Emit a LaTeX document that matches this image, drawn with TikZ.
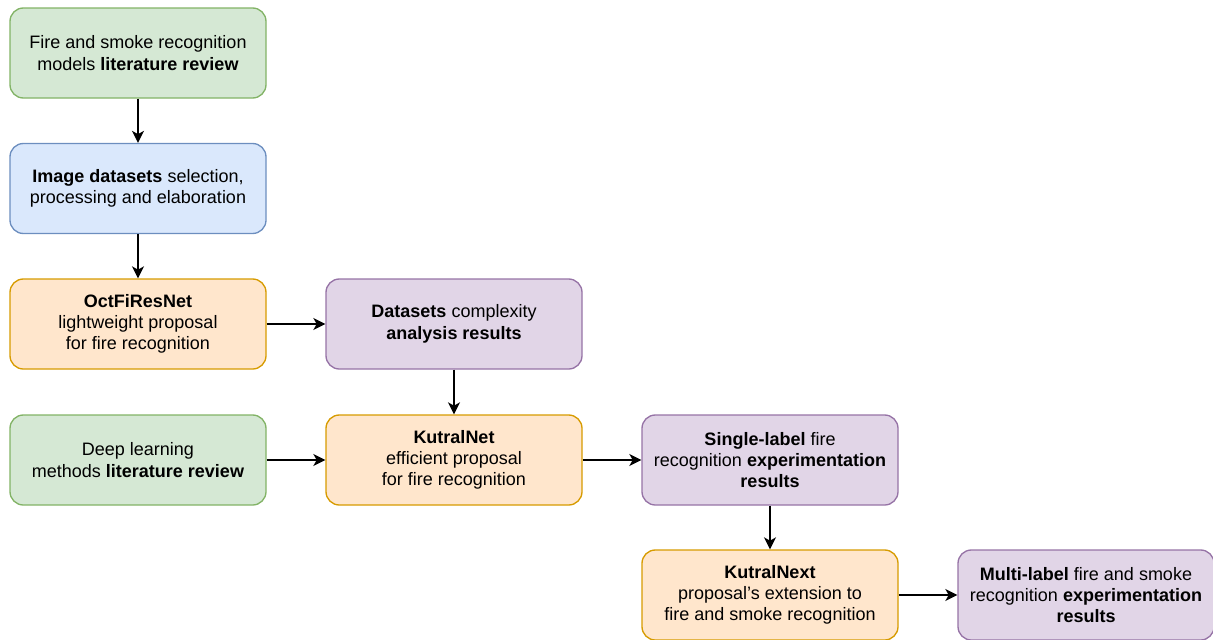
\documentclass[tikz,border=0pt]{standalone}
\usepackage{fontspec}
\setmainfont{Liberation Sans}
\usetikzlibrary{arrows.meta}

\definecolor{greenfill}{HTML}{D5E8D4}
\definecolor{greenline}{HTML}{82B366}
\definecolor{bluefill}{HTML}{DAE8FC}
\definecolor{blueline}{HTML}{6C8EBF}
\definecolor{orangefill}{HTML}{FFE6CC}
\definecolor{orangeline}{HTML}{D79B00}
\definecolor{purplefill}{HTML}{E1D5E7}
\definecolor{purpleline}{HTML}{9673A6}

\tikzset{
  box/.style={rectangle, rounded corners=10pt, line width=1pt,
    minimum width=192pt, minimum height=67.5pt, align=center,
    inner sep=0pt, text=black,
    font=\fontsize{13.5pt}{16pt}\selectfont},
  greenbox/.style={box, fill=greenfill, draw=greenline},
  bluebox/.style={box, fill=bluefill, draw=blueline},
  orangebox/.style={box, fill=orangefill, draw=orangeline},
  purplebox/.style={box, fill=purplefill, draw=purpleline},
  flow/.style={line width=1.2pt, draw=black,
    -{Stealth[length=9pt, width=9pt, inset=2.5pt]}}
}

\begin{document}
\begin{tikzpicture}[x=0.75pt, y=-0.75pt]
  \useasboundingbox (0,0) rectangle (1213,639);

  % first column: reviews, data and the first model
  \node[greenbox]  (litfire)  at (138,53)    {Fire and smoke recognition\\models \textbf{literature review}};
  \node[bluebox]   (data)     at (138,188.5) {\textbf{Image datasets} selection,\\processing and elaboration};
  \node[orangebox] (octfi)    at (138,324)   {\textbf{OctFiResNet}\\lightweight proposal\\for fire recognition};
  \node[greenbox]  (litdeep)  at (138,460)   {Deep learning\\methods \textbf{literature review}};

  % second column
  \node[purplebox] (complex)  at (454,324)   {\textbf{Datasets} complexity\\\textbf{analysis results}};
  \node[orangebox] (kutral)   at (454,460)   {\textbf{KutralNet}\\efficient proposal\\for fire recognition};

  % third column
  \node[purplebox] (single)   at (770,460)   {\textbf{Single-label} fire\\recognition \textbf{experimentation}\\\textbf{results}};
  \node[orangebox] (next)     at (770,595)   {\textbf{KutralNext}\\proposal's extension to\\fire and smoke recognition};

  % fourth column
  \node[purplebox] (multi)    at (1086,595)  {\textbf{Multi-label} fire and smoke\\recognition \textbf{experimentation}\\\textbf{results}};

  % connectors
  \draw[flow] (litfire) -- (data);
  \draw[flow] (data) -- (octfi);
  \draw[flow] (octfi) -- (complex);
  \draw[flow] (complex) -- (kutral);
  \draw[flow] (litdeep) -- (kutral);
  \draw[flow] (kutral) -- (single);
  \draw[flow] (single) -- (next);
  \draw[flow] (next) -- (multi);
\end{tikzpicture}
\end{document}
